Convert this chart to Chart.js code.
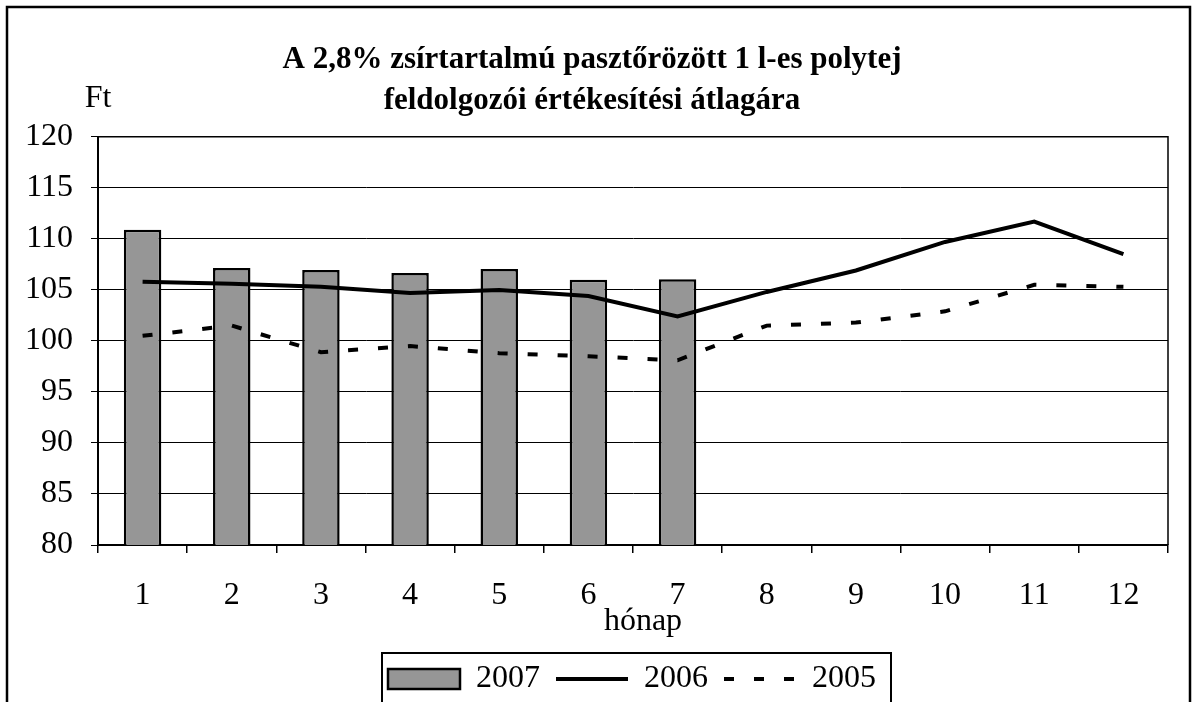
<!DOCTYPE html>
<html>
<head>
<meta charset="utf-8">
<script src="https://cdn.jsdelivr.net/npm/chart.js@4"></script>
<style>
  html, body { margin: 0; padding: 0; background: #fff; overflow: hidden; }
  #wrap { width: 1199px; height: 705px; position: relative; }
</style>
</head>
<body>
<div id="wrap"><canvas id="chart" width="1199" height="705"></canvas></div>
<script>
// chart data
const months = ['1', '2', '3', '4', '5', '6', '7', '8', '9', '10', '11', '12'];
const price2007 = [110.9, 107.15, 106.95, 106.65, 107.05, 106.0, 106.05, null, null, null, null, null];
const price2006 = [105.8, 105.6, 105.3, 104.7, 105.0, 104.4, 102.4, 104.8, 106.9, 109.7, 111.7, 108.5];
const price2005 = [100.5, 101.5, 98.9, 99.5, 98.8, 98.5, 98.1, 101.5, 101.8, 102.9, 105.5, 105.3];
const yTicks = [80, 85, 90, 95, 100, 105, 110, 115, 120];

const FONT = 'Liberation Serif, Times New Roman, serif';

// white background, frames, unit label and axis name
const decorPlugin = {
    id: 'decor',
    afterLayout(chart) {
        // nudge legend and title to where the original has them
        chart.legend.left += 48;
        chart.legend.right += 48;
        chart.titleBlock.left += 8;
        chart.titleBlock.right += 8;
    },
    beforeDraw(chart) {
        const ctx = chart.ctx;
        ctx.save();
        ctx.fillStyle = '#fff';
        ctx.fillRect(0, 0, chart.width, chart.height);
        ctx.restore();
    },
    afterDraw(chart) {
        const ctx = chart.ctx;
        const area = chart.chartArea;
        ctx.save();
        // outer frame
        ctx.strokeStyle = '#000';
        ctx.lineWidth = 2.5;
        ctx.beginPath();
        ctx.moveTo(7, chart.height + 5);
        ctx.lineTo(7, 7);
        ctx.lineTo(1190, 7);
        ctx.lineTo(1190, chart.height + 5);
        ctx.stroke();
        // plot area right and top edge
        ctx.lineWidth = 1.5;
        ctx.beginPath();
        ctx.moveTo(area.left, area.top);
        ctx.lineTo(area.right, area.top);
        ctx.lineTo(area.right, area.bottom);
        ctx.stroke();
        // legend frame
        const boxes = chart.legend.legendHitBoxes;
        if (boxes && boxes.length) {
            const l = Math.min(...boxes.map(b => b.left)) - 6;
            const r = Math.max(...boxes.map(b => b.left + b.width)) + 15;
            const t = Math.min(...boxes.map(b => b.top)) - 10;
            ctx.lineWidth = 2;
            ctx.strokeRect(l, t, r - l, chart.height);
        }
        // unit label and x axis name
        ctx.fillStyle = '#000';
        ctx.font = '32px ' + FONT;
        ctx.textAlign = 'center';
        ctx.textBaseline = 'middle';
        ctx.fillText('Ft', 98, 99);
        ctx.fillText('hónap', 643, 622);
        ctx.restore();
    }
};

const ctx = document.getElementById('chart').getContext('2d');
const chart = new Chart(ctx, {
    type: 'bar',
    data: {
        labels: months,
        datasets: [{
            type: 'bar',
            label: '2007',
            data: price2007,
            backgroundColor: '#969696',
            borderColor: '#000',
            borderWidth: 2.5,
            categoryPercentage: 1,
            barPercentage: 0.42,
            order: 3
        }, {
            type: 'line',
            label: '2006',
            data: price2006,
            borderColor: '#000',
            backgroundColor: '#000',
            borderWidth: 4,
            tension: 0,
            pointRadius: 0,
            fill: false,
            order: 1
        }, {
            type: 'line',
            label: '2005',
            data: price2005,
            borderColor: '#000',
            backgroundColor: '#000',
            borderWidth: 4,
            borderDash: [10, 20],
            tension: 0,
            pointRadius: 0,
            fill: false,
            order: 2
        }]
    },
    options: {
        responsive: false,
        animation: false,
        devicePixelRatio: 1,
        layout: {
            padding: { left: 0, right: 31, top: 0, bottom: 0 }
        },
        plugins: {
            title: {
                display: true,
                text: ['A 2,8% zsírtartalmú pasztőrözött 1 l-es polytej', 'feldolgozói értékesítési átlagára'],
                color: '#000',
                font: { family: FONT, size: 31, weight: 'bold', lineHeight: 1.32 },
                padding: { top: 40, bottom: 15 }
            },
            legend: {
                position: 'bottom',
                labels: {
                    color: '#000',
                    font: { family: FONT, size: 32 },
                    usePointStyle: true,
                    pointStyleWidth: 72,
                    boxHeight: 20,
                    padding: 16,
                    generateLabels: (chart) => chart.data.datasets.map((ds, i) => ({
                        text: ds.label,
                        fillStyle: ds.backgroundColor,
                        strokeStyle: ds.borderColor,
                        lineWidth: i === 0 ? 2.5 : 4,
                        lineDash: ds.borderDash || [],
                        pointStyle: i === 0 ? 'rect' : 'line',
                        fontColor: '#000',
                        hidden: false,
                        datasetIndex: i
                    }))
                }
            },
            tooltip: { enabled: false }
        },
        scales: {
            x: {
                offset: true,
                afterFit: (scale) => { scale.height = 102; },
                grid: {
                    offset: true,
                    drawOnChartArea: false,
                    color: '#000',
                    tickLength: 8,
                    lineWidth: 1.5
                },
                border: { color: '#000', width: 2 },
                ticks: {
                    color: '#000',
                    font: { family: FONT, size: 32 },
                    padding: 23,
                    maxRotation: 0
                }
            },
            y: {
                min: 80,
                max: 120,
                afterFit: (scale) => { scale.width = 98; },
                afterBuildTicks: (scale) => { scale.ticks = yTicks.map(v => ({ value: v })); },
                grid: {
                    color: '#000',
                    lineWidth: 1,
                    tickLength: 7
                },
                border: { color: '#000', width: 2 },
                ticks: {
                    color: '#000',
                    font: { family: FONT, size: 32 },
                    padding: 18
                }
            }
        }
    },
    plugins: [decorPlugin]
});
</script>
</body>
</html>
